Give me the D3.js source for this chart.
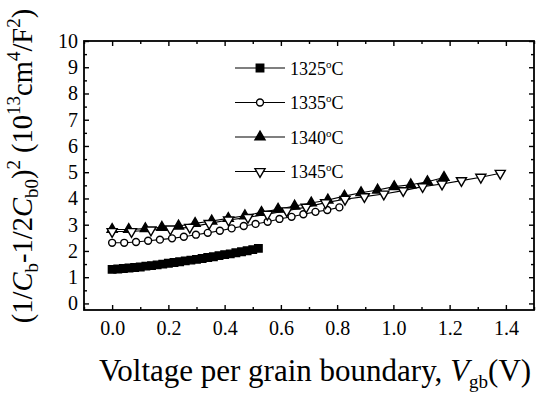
<!DOCTYPE html>
<html><head><meta charset="utf-8">
<script src="https://cdn.jsdelivr.net/npm/d3@7"></script>
<style>body{margin:0;background:#fff}svg{display:block}text{font-family:"Liberation Serif","Times New Roman",serif;fill:#000}</style>
</head><body><svg id="c" width="538" height="400"></svg>
<script>
// ---- data ----
const seriesNames = ["1325°C", "1335°C", "1340°C", "1345°C"];
const x1325 = [0.00,0.02,0.04,0.06,0.08,0.10,0.12,0.14,0.16,0.18,0.20,0.22,0.24,0.26,0.28,0.30,0.32,0.34,0.36,0.38,0.40,0.42,0.44,0.46,0.48,0.50,0.52];
const y1325 = [1.30,1.31,1.33,1.35,1.37,1.39,1.42,1.44,1.47,1.50,1.53,1.56,1.59,1.62,1.65,1.68,1.71,1.75,1.78,1.82,1.86,1.89,1.93,1.97,2.01,2.05,2.10];
const x1335 = [0.000,0.043,0.085,0.128,0.170,0.213,0.255,0.298,0.340,0.383,0.425,0.468,0.510,0.553,0.595,0.638,0.680,0.723,0.765,0.808];
const y1335 = [2.31,2.31,2.34,2.39,2.43,2.48,2.54,2.62,2.69,2.77,2.86,2.95,3.03,3.11,3.22,3.30,3.40,3.49,3.56,3.66];
const x1340 = [0.000,0.059,0.118,0.177,0.236,0.295,0.354,0.413,0.472,0.531,0.590,0.649,0.708,0.767,0.826,0.885,0.944,1.003,1.062,1.121,1.180];
const y1340 = [2.82,2.82,2.85,2.90,2.95,3.05,3.14,3.24,3.34,3.47,3.59,3.71,3.83,3.94,4.09,4.22,4.32,4.45,4.52,4.64,4.80];
const x1345 = [0.000,0.069,0.138,0.207,0.276,0.345,0.414,0.483,0.552,0.621,0.690,0.759,0.828,0.897,0.966,1.035,1.104,1.173,1.242,1.311,1.380];
const y1345 = [2.74,2.74,2.80,2.84,2.90,3.05,3.18,3.28,3.40,3.53,3.67,3.84,3.97,4.07,4.17,4.30,4.45,4.55,4.68,4.81,4.96];
const xTicks = [0.0,0.2,0.4,0.6,0.8,1.0,1.2,1.4];
const xMinor = [-0.1,0.1,0.3,0.5,0.7,0.9,1.1,1.3,1.5];
const yTicks = [0,1,2,3,4,5,6,7,8,9,10];
const yMinor = [0.5,1.5,2.5,3.5,4.5,5.5,6.5,7.5,8.5,9.5];

const FONT = '"Liberation Serif","Times New Roman",serif';
const svg = d3.select("#c");
const L=84, R=534, T=41, B=310;
const x = d3.scaleLinear().domain([-0.1,1.5]).range([L,R]);
const y = d3.scaleLinear().domain([-0.25,10]).range([B,T]);

function styleAxis(g){
  g.attr("font-family",null).attr("font-size",null);
  g.select(".domain").remove();
  g.selectAll("line").attr("stroke","#000").attr("stroke-width",1.4);
  g.selectAll("text").style("font-family",FONT).style("font-size","20px");
}

// bottom
svg.append("g").attr("transform",`translate(0,${B})`).call(d3.axisBottom(x).tickValues(xTicks).tickSize(-5).tickPadding(11).tickFormat(d3.format(".1f"))).call(styleAxis);
svg.append("g").attr("transform",`translate(0,${B})`).call(d3.axisBottom(x).tickValues(xMinor).tickSize(-3).tickFormat("")).call(styleAxis);
// top
svg.append("g").attr("transform",`translate(0,${T})`).call(d3.axisTop(x).tickValues(xTicks).tickSize(-5).tickFormat("")).call(styleAxis);
svg.append("g").attr("transform",`translate(0,${T})`).call(d3.axisTop(x).tickValues(xMinor).tickSize(-3).tickFormat("")).call(styleAxis);
// left
svg.append("g").attr("transform",`translate(${L},0)`).call(d3.axisLeft(y).tickValues(yTicks).tickSize(-5).tickPadding(6).tickFormat(d3.format("d"))).call(styleAxis);
svg.append("g").attr("transform",`translate(${L},0)`).call(d3.axisLeft(y).tickValues(yMinor).tickSize(-3).tickFormat("")).call(styleAxis);
// right
svg.append("g").attr("transform",`translate(${R},0)`).call(d3.axisRight(y).tickValues(yTicks).tickSize(-5).tickFormat("")).call(styleAxis);
svg.append("g").attr("transform",`translate(${R},0)`).call(d3.axisRight(y).tickValues(yMinor).tickSize(-3).tickFormat("")).call(styleAxis);

svg.append("rect").attr("x",L).attr("y",T).attr("width",R-L).attr("height",B-T).attr("fill","none").attr("stroke","#000").attr("stroke-width",1.8);

const line = d3.line().x(d=>x(d[0])).y(d=>y(d[1]));
const sq = d3.symbol().type(d3.symbolSquare).size(56);
const circ = d3.symbol().type(d3.symbolCircle).size(38);
const tri = d3.symbol().type(d3.symbolTriangle).size(44);

const series = [
  {name:seriesNames[0], xs:x1325, ys:y1325, sym:sq, fill:"#000", rot:0, line:false},
  {name:seriesNames[1], xs:x1335, ys:y1335, sym:circ, fill:"#fff", rot:0, line:true},
  {name:seriesNames[2], xs:x1340, ys:y1340, sym:tri, fill:"#000", rot:0, line:true},
  {name:seriesNames[3], xs:x1345, ys:y1345, sym:tri, fill:"#fff", rot:180, line:true}
];

series.forEach(s=>{
  const pts = s.xs.map((v,i)=>[v,s.ys[i]]);
  if(s.line) svg.append("path").datum(pts).attr("d",line).attr("fill","none").attr("stroke","#000").attr("stroke-width",1.1);
  svg.append("g").selectAll("path").data(pts).join("path")
    .attr("d",s.sym).attr("transform",d=>`translate(${x(d[0])},${y(d[1])}) rotate(${s.rot})`)
    .attr("fill",s.fill).attr("stroke","#000").attr("stroke-width",1.4);
});

// legend
const lg = svg.append("g");
series.forEach((s,i)=>{
  const yy = 68 + i*34.5;
  lg.append("line").attr("x1",235).attr("x2",285).attr("y1",yy).attr("y2",yy).attr("stroke","#000").attr("stroke-width",1.1);
  lg.append("path").attr("d",s.sym).attr("transform",`translate(260,${yy}) rotate(${s.rot})`).attr("fill",s.fill).attr("stroke","#000").attr("stroke-width",1.4);
  const t = lg.append("text").attr("x",290).attr("y",yy+6.5).style("font-family",FONT).style("font-size","18px");
  const m = s.name.match(/(\d+)°C/);
  t.append("tspan").text(m[1]);
  t.append("tspan").attr("dy",-7).style("font-size","11px").text("o");
  t.append("tspan").attr("dy",7).text("C");
});

// x label
const xl = svg.append("text").attr("x",315).attr("y",381).attr("text-anchor","middle").style("font-family",FONT).style("font-size","31px");
xl.append("tspan").text("Voltage per grain boundary, ");
xl.append("tspan").style("font-style","italic").text("V");
xl.append("tspan").attr("dy",7).style("font-size","19px").text("gb");
xl.append("tspan").attr("dy",-7).text("(V)");

// y label
const yl = svg.append("text").attr("transform","translate(32,166) rotate(-90)").attr("text-anchor","middle").style("font-family",FONT).style("font-size","28.5px");
yl.append("tspan").text("(1/");
yl.append("tspan").style("font-style","italic").text("C");
yl.append("tspan").attr("dy",6).style("font-size","19px").text("b");
yl.append("tspan").attr("dy",-6).text("-1/2");
yl.append("tspan").style("font-style","italic").text("C");
yl.append("tspan").attr("dy",6).style("font-size","19px").text("b0");
yl.append("tspan").attr("dy",-6).text(")");
yl.append("tspan").attr("dy",-12).style("font-size","19px").text("2");
yl.append("tspan").attr("dy",12).text(" (10");
yl.append("tspan").attr("dy",-12).style("font-size","19px").text("13");
yl.append("tspan").attr("dy",12).text("cm");
yl.append("tspan").attr("dy",-12).style("font-size","19px").text("4");
yl.append("tspan").attr("dy",12).text("/F");
yl.append("tspan").attr("dy",-12).style("font-size","19px").text("2");
yl.append("tspan").attr("dy",12).text(")");
</script></body></html>
